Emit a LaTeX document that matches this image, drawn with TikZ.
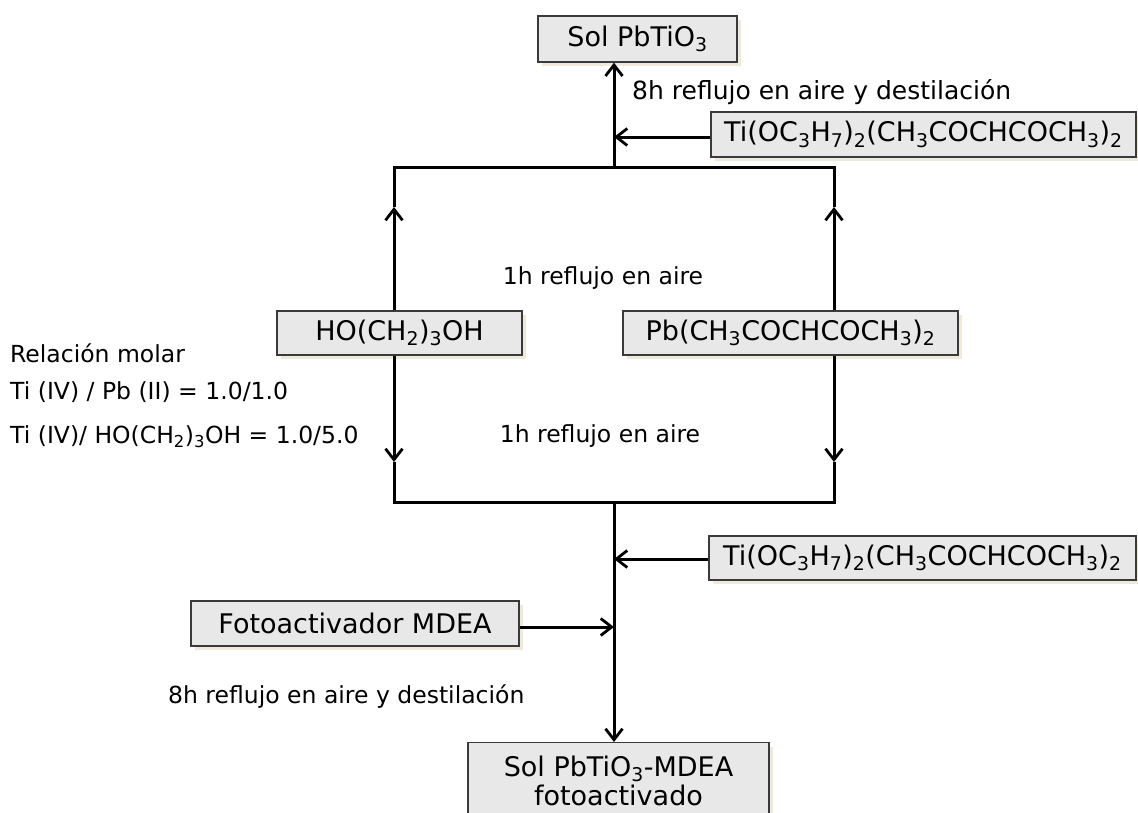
\documentclass[tikz,border=0pt]{standalone}
\usepackage{fontspec}
\setmainfont{DejaVu Sans}
\usetikzlibrary{arrows.meta,shadows}
\definecolor{boxfill}{HTML}{E8E8E8}
\definecolor{boxedge}{HTML}{3A3A3A}
\definecolor{boxshade}{HTML}{EDEADC}
\tikzset{
  x=1pt, y=-1pt,
  stage/.style={draw=boxedge, line width=1.4pt, fill=boxfill, inner sep=0pt,
    font=\fontsize{27}{28}\selectfont, align=center,
    drop shadow={fill=boxshade, opacity=1, shadow xshift=4pt, shadow yshift=-4pt}},
  note/.style={font=\fontsize{23.5}{28}\selectfont, inner sep=0pt},
  wire/.style={line width=3pt, line join=miter, black},
  flow/.style={wire, -{Straight Barb[length=11pt,width=17pt,line width=2.8pt]}}
}
\newcommand{\sub}[1]{\textsubscript{#1}}
\begin{document}
\begin{tikzpicture}
\useasboundingbox (0,0) rectangle (1138,812);

% process stages
\node[stage, minimum width=199pt, minimum height=46pt] (solTop) at (637.5,39) {Sol PbTiO\sub{3}};
\node[stage, minimum width=425pt, minimum height=45pt] (ti1) at (923.5,134.5) {Ti(OC\sub{3}H\sub{7})\sub{2}(CH\sub{3}COCHCOCH\sub{3})\sub{2}};
\node[stage, minimum width=245pt, minimum height=44pt] (ho) at (399.5,333) {HO(CH\sub{2})\sub{3}OH};
\node[stage, minimum width=335pt, minimum height=44pt] (pb) at (790.5,333) {Pb(CH\sub{3}COCHCOCH\sub{3})\sub{2}};
\node[stage, minimum width=427pt, minimum height=44pt] (ti2) at (922.5,558) {Ti(OC\sub{3}H\sub{7})\sub{2}(CH\sub{3}COCHCOCH\sub{3})\sub{2}};
\node[stage, minimum width=328pt, minimum height=45pt] (mdea) at (355,623.5) {Fotoactivador MDEA};
\node[stage, minimum width=301pt, minimum height=76pt, anchor=north] (solBot) at (618.5,742) {Sol PbTiO\sub{3}-MDEA\\[1.5pt]fotoactivado};

% junction points of the flow lines
\coordinate (tl) at (394,167);
\coordinate (tr) at (834,167);
\coordinate (tm) at (614,167);
\coordinate (ul) at (394,207);
\coordinate (ur) at (834,207);
\coordinate (dl) at (394,462);
\coordinate (dr) at (834,462);
\coordinate (bl) at (394,502);
\coordinate (br) at (834,502);
\coordinate (bm) at (614,502);
\coordinate (j1) at (614,137);
\coordinate (j2) at (614,559);
\coordinate (j3) at (614,627);

% upper reflux loop
\draw[flow] (ho.north -| ul) -- (ul);
\draw[flow] (pb.north -| ur) -- (ur);
\draw[wire] (ul) -- (tl) -- (tr) -- (ur);
\draw[flow] (tm) -- (solTop.south -| tm);
\draw[flow] (ti1.west |- j1) -- (j1);

% lower reflux loop
\draw[flow] (ho.south -| dl) -- (dl);
\draw[flow] (pb.south -| dr) -- (dr);
\draw[wire] (dl) -- (bl) -- (br) -- (dr);
\draw[flow] (bm) -- (solBot.north -| bm);
\draw[flow] (ti2.west |- j2) -- (j2);
\draw[flow] (mdea.east |- j3) -- (j3);

% process conditions
\node[note, anchor=west, font=\fontsize{25}{30}\selectfont] (c1) at (632,92) {8h reflujo en aire y destilación};
\node[note] (c2) at (603,278) {1h reflujo en aire};
\node[note] (c3) at (600,436) {1h reflujo en aire};
\node[note, anchor=west] (c4) at (168,697) {8h reflujo en aire y destilación};

% molar ratios
\node[note, anchor=west] (r1) at (10,353) {Relación molar};
\node[note, anchor=west] (r2) at (10,392) {Ti (IV) / Pb (II) = 1.0/1.0};
\node[note, anchor=west] (r3) at (10,437) {Ti (IV)/ HO(CH\sub{2})\sub{3}OH = 1.0/5.0};
\end{tikzpicture}
\end{document}
